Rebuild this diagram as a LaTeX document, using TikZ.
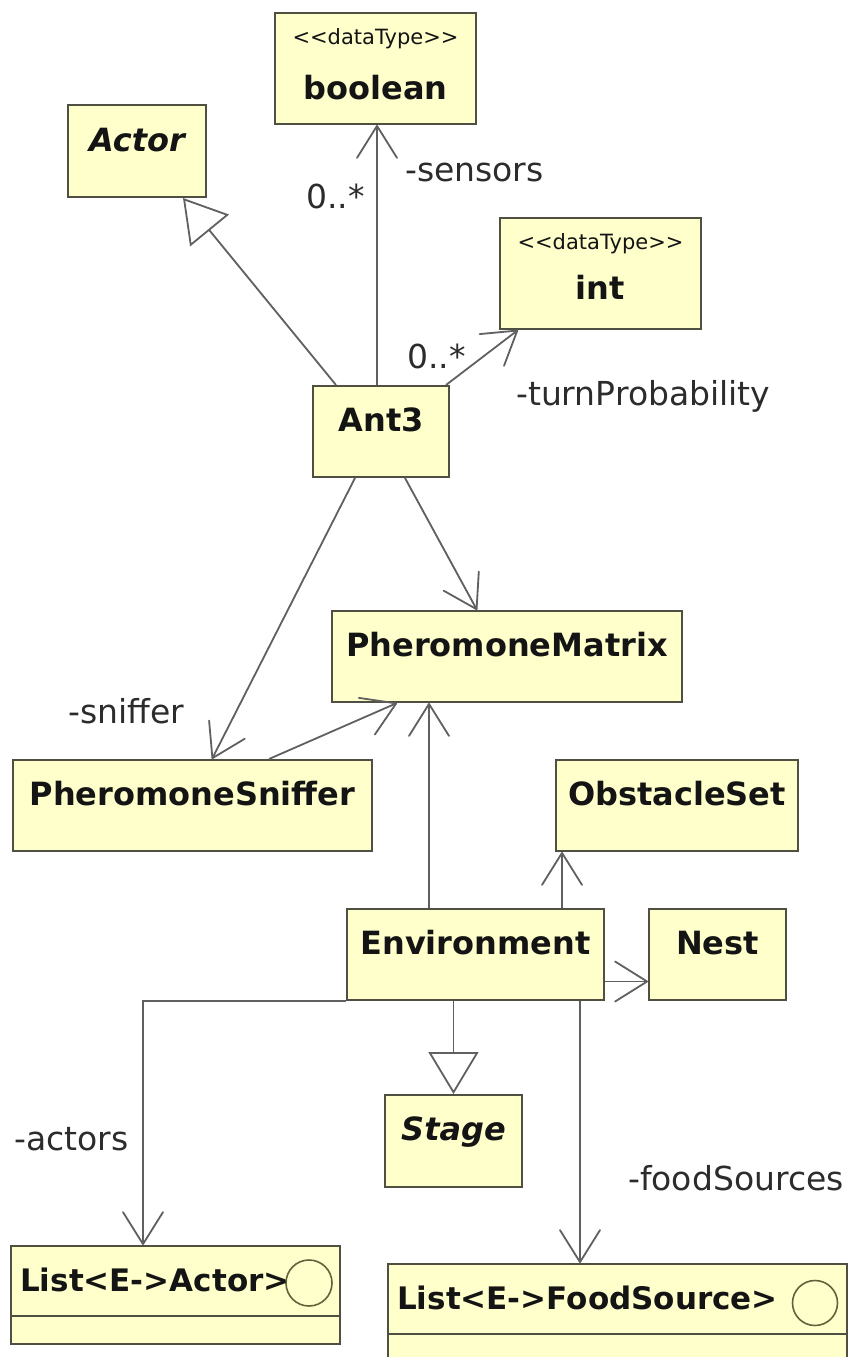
\documentclass[tikz,border=0pt]{standalone}
\usepackage{fontspec}
\setmainfont{DejaVu Sans}
\usetikzlibrary{arrows.meta}

\definecolor{clsfill}{RGB}{255,255,204}
\definecolor{clsedge}{RGB}{80,80,66}
\definecolor{wire}{RGB}{96,96,96}
\definecolor{ink}{RGB}{20,20,20}

% open "V" head of a navigable association
\pgfdeclarearrow{
  name = VTip,
  defaults = {length=30pt, width=40pt},
  setup code = {
    \pgfarrowssettipend{.5\pgflinewidth}
    \pgfarrowssetlineend{0pt}
    \pgfarrowssetvisualbackend{-\pgfarrowlength}
    \pgfarrowssetbackend{-\pgfarrowlength}
    \pgfarrowshullpoint{0pt}{0pt}
    \pgfarrowsupperhullpoint{-\pgfarrowlength}{.5\pgfarrowwidth}
    \pgfarrowssavethe\pgfarrowlength
    \pgfarrowssavethe\pgfarrowwidth
  },
  drawing code = {
    \pgfsetdash{}{0pt}
    \pgfsetroundjoin
    \pgfsetroundcap
    \pgfpathmoveto{\pgfqpoint{-\pgfarrowlength}{.5\pgfarrowwidth}}
    \pgfpathlineto{\pgfpointorigin}
    \pgfpathlineto{\pgfqpoint{-\pgfarrowlength}{-.5\pgfarrowwidth}}
    \pgfusepathqstroke
  },
  parameters = {\the\pgfarrowlength,\the\pgfarrowwidth},
}

\tikzset{
  cls/.style={draw=clsedge, line width=2pt, fill=clsfill, rectangle, inner sep=0pt},
  cname/.style={anchor=base, inner sep=0pt, text=ink, font=\fontsize{32}{38}\selectfont\bfseries},
  aname/.style={cname, font=\fontsize{32}{38}\selectfont\bfseries\itshape},
  lname/.style={anchor=base west, inner sep=0pt, text=ink, font=\fontsize{31}{38}\selectfont\bfseries},
  stereo/.style={anchor=base, inner sep=0pt, text=ink, font=\fontsize{21}{24}\selectfont},
  rolelabel/.style={anchor=base west, inner sep=0pt, text=ink!90, font=\fontsize{33}{40}\selectfont},
  assoc/.style={draw=wire, line width=1.8pt, -{VTip[length=32pt, width=40pt]}},
  inherit/.style={draw=wire, line width=1.8pt, -{Triangle[open, length=42pt, width=50pt, line width=1.8pt]}},
  lollipop/.style={draw=clsedge!90!yellow, line width=1.6pt, fill=clsfill},
}

\begin{document}
\begin{tikzpicture}[x=1pt, y=-1pt]
\clip (0,0) rectangle (859,1357);
\fill[white] (0,0) rectangle (859,1357);

% class boxes
\node[cls, minimum width=201pt, minimum height=111pt] (bool)  at (375.5, 68.5)  {};
\node[cls, minimum width=138pt, minimum height=92pt]  (actor) at (137, 151)     {};
\node[cls, minimum width=201pt, minimum height=111pt] (int)   at (600.5, 273.5) {};
\node[cls, minimum width=136pt, minimum height=91pt]  (ant)   at (381, 431.5)   {};
\node[cls, minimum width=350pt, minimum height=91pt]  (pm)    at (507, 656.5)   {};
\node[cls, minimum width=359pt, minimum height=91pt]  (ps)    at (192.5, 805.5) {};
\node[cls, minimum width=242pt, minimum height=91pt]  (os)    at (677, 805.5)   {};
\node[cls, minimum width=257pt, minimum height=91pt]  (env)   at (475.5, 954.5) {};
\node[cls, minimum width=137pt, minimum height=91pt]  (nest)  at (717.5, 954.5) {};
\node[cls, minimum width=137pt, minimum height=92pt]  (stage) at (453.5, 1141)  {};
\node[cls, minimum width=329pt, minimum height=98pt]  (lista) at (175.5, 1295)  {};
\node[cls, minimum width=459pt, minimum height=110pt] (listf) at (617.5, 1319)  {};

% compartment separators of the list interfaces
\draw[draw=clsedge, line width=2pt] (lista.west |- 0,1316) -- (lista.east |- 0,1316);
\draw[draw=clsedge, line width=2pt] (listf.west |- 0,1334) -- (listf.east |- 0,1334);

% interface circles
\node[lollipop, circle, minimum size=46pt, inner sep=0pt] (lacirc) at (309, 1283) {};
\node[lollipop, circle, minimum size=45pt, inner sep=0pt] (lfcirc) at (815, 1303) {};

% class names
\node[stereo] (boolS) at ([yshift=-32pt]bool.north) {<{}<dataType>{}>};
\node[cname]  (boolT) at ([yshift=-87pt]bool.north) {boolean};
\node[stereo] (intS)  at ([yshift=-32pt]int.north)  {<{}<dataType>{}>};
\node[cname]  (intT)  at ([yshift=-82pt]int.north)  {int};
\node[aname]  (actorT) at ([yshift=-47pt]actor.north) {Actor};
\node[cname]  (antT)  at ([yshift=-46pt]ant.north)  {Ant3};
\node[cname]  (pmT)   at ([yshift=-46pt]pm.north)   {PheromoneMatrix};
\node[cname]  (psT)   at ([yshift=-46pt]ps.north)   {PheromoneSniffer};
\node[cname]  (osT)   at ([yshift=-46pt]os.north)   {ObstacleSet};
\node[cname]  (envT)  at ([yshift=-46pt]env.north)  {Environment};
\node[cname]  (nestT) at ([yshift=-46pt]nest.north) {Nest};
\node[aname]  (stageT) at ([yshift=-46pt]stage.north) {Stage};
\node[lname]  (listaT) at (20, 1291) {List<E->Actor>};
\node[lname]  (listfT) at (397, 1309) {List<E->FoodSource>};

% generalizations
\draw[inherit] ([xshift=24pt]ant.north west) -- ([xshift=-24pt]actor.south east);
\draw[inherit] (stage.north |- env.south) -- (stage.north);

% associations from Ant3
\draw[assoc] ([xshift=-4pt]ant.north) -- ([xshift=-4pt]ant.north |- bool.south);
\draw[assoc] ([xshift=-4pt]ant.north east) -- ([xshift=19pt]int.south west);
\draw[assoc] ([xshift=24pt]ant.south) -- ([xshift=-30pt]pm.north);
\draw[assoc] ([xshift=-26pt]ant.south) -- ([xshift=200pt]ps.north west);

% sniffer reads the matrix
\draw[assoc] ([xshift=257pt]ps.north west) -- ([xshift=66pt]pm.south west);

% associations from Environment
\draw[assoc] ([xshift=83pt]env.north west) -- ([xshift=83pt]env.north west |- pm.south);
\draw[assoc] ([xshift=216pt]env.north west) -- ([xshift=216pt]env.north west |- os.south);
\draw[assoc] ([yshift=-27pt]env.east) -- ([yshift=-27pt]env.east -| nest.west);
\draw[assoc] (env.south west) -| ([xshift=-32.5pt]lista.north);
\draw[assoc] ([xshift=-37.5pt]listf.north |- env.south) -- ([xshift=-37.5pt]listf.north);

% role names and multiplicities
\node[rolelabel] (m1) at (306, 208)  {0..*};
\node[rolelabel] (r1) at (405, 181)  {-sensors};
\node[rolelabel] (m2) at (407, 368)  {0..*};
\node[rolelabel] (r2) at (516, 405)  {-turnProbability};
\node[rolelabel] (r3) at (68, 723)   {-sniffer};
\node[rolelabel] (r4) at (14, 1150)  {-actors};
\node[rolelabel] (r5) at (628, 1190) {-foodSources};
\end{tikzpicture}
\end{document}
